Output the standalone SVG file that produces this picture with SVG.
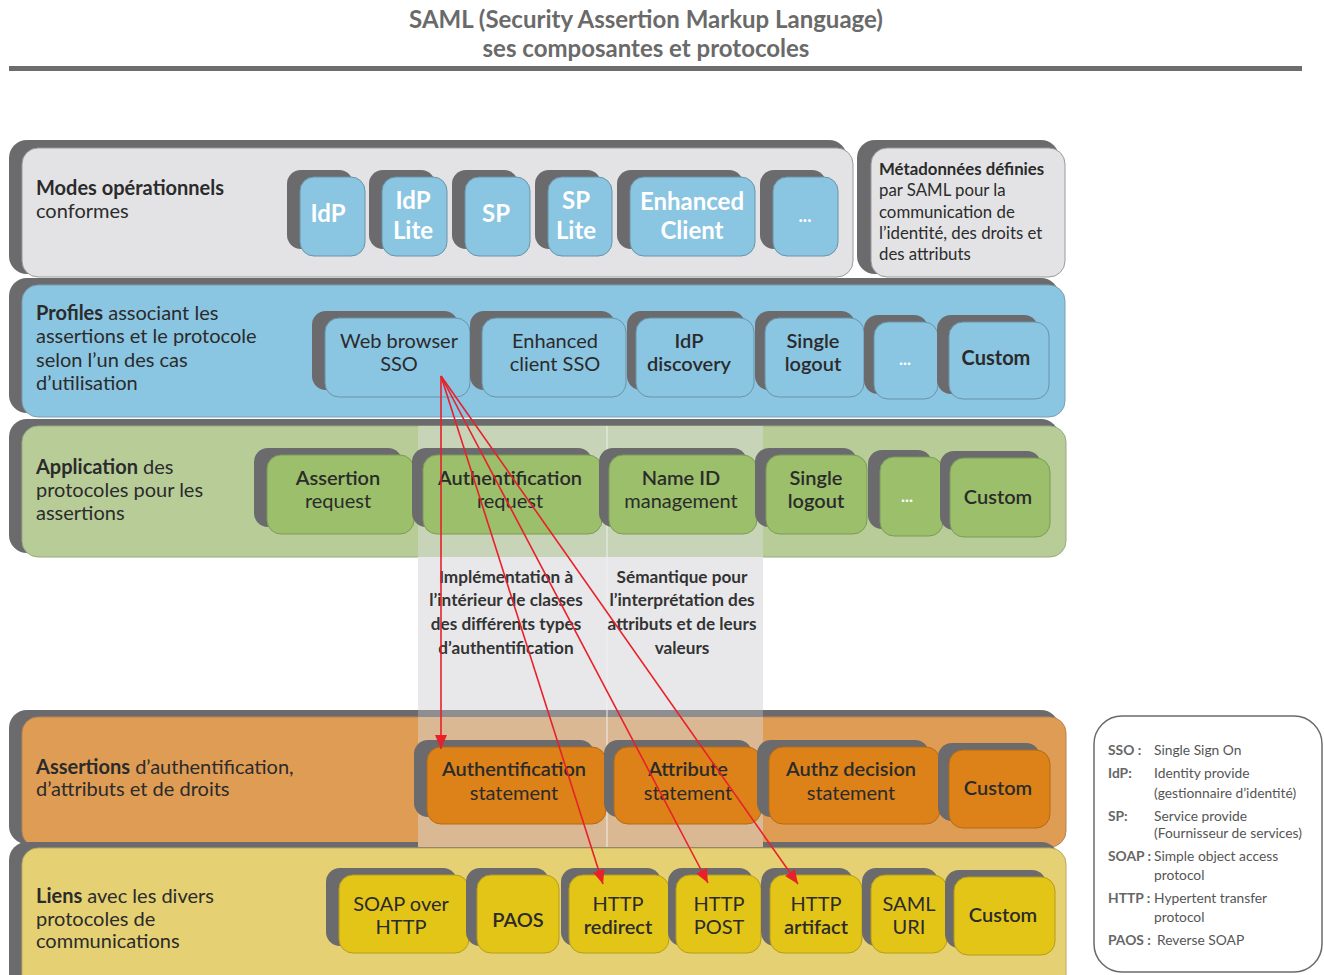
<svg xmlns="http://www.w3.org/2000/svg" width="1324" height="975" viewBox="0 0 1324 975">
<defs>
<style>
text{font-family:Lato,"Liberation Sans",sans-serif;}
.title{font-size:24px;font-weight:700;fill:#6a6a6a;text-anchor:middle;}
.lbl{font-size:20px;fill:#2b2b2b;}
.b{font-weight:700;}
.meta{font-size:16.8px;fill:#2b2b2b;}
.nt{font-size:20px;fill:#2b2b2b;text-anchor:middle;}
.nw{font-size:24px;fill:#ffffff;text-anchor:middle;font-weight:700;}
.sb{font-weight:700;}
.mid{font-size:17.2px;font-weight:700;fill:#333;text-anchor:middle;}
.lg{font-size:13.8px;fill:#555;}
.lgb{font-size:13.8px;fill:#666;font-weight:700;}
.dark{fill:#6b6b6d;}
.sh{fill:#6b6b6d;}
.blue{fill:#8ac5e2;stroke:#6a93a8;stroke-width:1;}
.green{fill:#9bbf6a;stroke:#7d9a58;stroke-width:1;}
.orange{fill:#dc8218;stroke:#b36a18;stroke-width:1;}
.yellow{fill:#e3c518;stroke:#b49c1a;stroke-width:1;}
.arrow{stroke:#e8202a;stroke-width:1.6;fill:none;marker-end:url(#ah);}
</style>
<marker id="ah" viewBox="0 0 14 12" refX="14" refY="6" markerWidth="14" markerHeight="12" markerUnits="userSpaceOnUse" orient="auto">
<path d="M0,0 L14,6 L0,12 z" fill="#e8202a"/>
</marker>
</defs>
<rect x="0" y="0" width="1324" height="975" fill="#ffffff"/>

<g id="title">
<text class="title" x="646" y="28">SAML (Security Assertion Markup Language)</text>
<text class="title" x="646" y="57">ses composantes et protocoles</text>
<rect x="9" y="66" width="1293" height="5" fill="#6d6d6d"/>
</g>

<!-- Bands -->
<g id="band-modes">
<rect class="dark" x="9" y="140" width="838" height="134" rx="18"/>
<rect x="22" y="148" width="831" height="129" rx="16" fill="#e3e3e5" stroke="#9a9a9a" stroke-width="1"/>
<text class="lbl" x="36" y="195"><tspan class="b">Modes opérationnels</tspan></text>
<text class="lbl" x="36" y="218">conformes</text>
</g>
<g id="band-meta">
<rect class="dark" x="857" y="140" width="202" height="134" rx="18"/>
<rect x="871" y="148" width="194" height="129" rx="16" fill="#e3e3e5" stroke="#9a9a9a" stroke-width="1"/>
<text class="meta" x="879" y="175"><tspan class="b">Métadonnées définies</tspan></text>
<text class="meta" x="879" y="196">par SAML pour la</text>
<text class="meta" x="879" y="218">communication de</text>
<text class="meta" x="879" y="239">l’identité, des droits et</text>
<text class="meta" x="879" y="260">des attributs</text>
</g>
<g id="band-profiles">
<rect class="dark" x="9" y="278" width="1050" height="135" rx="18"/>
<rect x="22" y="285" width="1043" height="132" rx="16" fill="#8ac5e2" stroke="#7a9fb2" stroke-width="1"/>
<text class="lbl" x="36" y="320"><tspan class="b">Profiles</tspan> associant les</text>
<text class="lbl" x="36" y="343">assertions et le protocole</text>
<text class="lbl" x="36" y="367">selon l’un des cas</text>
<text class="lbl" x="36" y="390">d’utilisation</text>
</g>
<g id="band-application">
<rect class="dark" x="9" y="419" width="1050" height="134" rx="18"/>
<rect x="22" y="426" width="1044" height="131" rx="16" fill="#b8cc98" stroke="#98aa80" stroke-width="1"/>
<text class="lbl" x="36" y="474"><tspan class="b">Application</tspan> des</text>
<text class="lbl" x="36" y="497">protocoles pour les</text>
<text class="lbl" x="36" y="520">assertions</text>
</g>
<g id="band-assertions">
<rect class="dark" x="9" y="710" width="1050" height="134" rx="18"/>
<rect x="22" y="717" width="1044" height="130" rx="16" fill="#df9c55" stroke="#b88450" stroke-width="1"/>
<text class="lbl" x="36" y="774"><tspan class="b">Assertions</tspan> d’authentification,</text>
<text class="lbl" x="36" y="796">d’attributs et de droits</text>
</g>
<g id="band-liens">
<rect class="dark" x="9" y="842" width="1050" height="150" rx="18"/>
<rect x="22" y="848" width="1044" height="145" rx="16" fill="#e5d173" stroke="#b8a860" stroke-width="1"/>
<text class="lbl" x="36" y="903"><tspan class="b">Liens</tspan> avec les divers</text>
<text class="lbl" x="36" y="926">protocoles de</text>
<text class="lbl" x="36" y="948">communications</text>
</g>

<!-- Columns -->
<g id="columns">
<rect x="418" y="426" width="345" height="131" fill="#c7d4b7"/>
<rect x="418" y="557" width="345" height="153" fill="#e8e8ea"/>
<rect x="418" y="710" width="345" height="7" fill="#8e8e90"/>
<rect x="418" y="717" width="345" height="130" fill="#dab893"/>
<line x1="607" y1="426" x2="607" y2="847" stroke="#f2f2f2" stroke-width="1.2" opacity="0.8"/>
<text class="mid" x="506" y="583">Implémentation à</text>
<text class="mid" x="506" y="606">l’intérieur de classes</text>
<text class="mid" x="506" y="630">des différents types</text>
<text class="mid" x="506" y="654">d’authentification</text>
<text class="mid" x="682" y="583">Sémantique pour</text>
<text class="mid" x="682" y="606">l’interprétation des</text>
<text class="mid" x="682" y="630">attributs et de leurs</text>
<text class="mid" x="682" y="654">valeurs</text>
</g>

<!-- Row 1 nodes -->
<g id="n-idp"><rect class="sh" x="287" y="170" width="66" height="79" rx="14"/><rect class="blue" x="300" y="177" width="65" height="79" rx="14"/><text class="nw" x="328" y="222">IdP</text></g>
<g id="n-idplite"><rect class="sh" x="369" y="170" width="66" height="79" rx="14"/><rect class="blue" x="382" y="177" width="65" height="79" rx="14"/><text class="nw" x="413" y="209">IdP</text><text class="nw" x="413" y="239">Lite</text></g>
<g id="n-sp"><rect class="sh" x="452" y="170" width="66" height="79" rx="14"/><rect class="blue" x="465" y="177" width="65" height="79" rx="14"/><text class="nw" x="496" y="222">SP</text></g>
<g id="n-splite"><rect class="sh" x="535" y="170" width="66" height="79" rx="14"/><rect class="blue" x="548" y="177" width="64" height="79" rx="14"/><text class="nw" x="576" y="209">SP</text><text class="nw" x="576" y="239">Lite</text></g>
<g id="n-enhanced"><rect class="sh" x="617" y="170" width="126" height="79" rx="14"/><rect class="blue" x="630" y="177" width="125" height="79" rx="14"/><text class="nw" x="692" y="210">Enhanced</text><text class="nw" x="692" y="239">Client</text></g>
<g id="n-dots1"><rect class="sh" x="760" y="170" width="66" height="79" rx="14"/><rect class="blue" x="773" y="177" width="65" height="79" rx="14"/><text class="nw" x="805" y="222" style="font-size:18px">...</text></g>

<!-- Row 2 nodes -->
<g id="n-websso"><rect class="sh" x="312" y="311" width="146" height="79" rx="14"/><rect class="blue" x="325" y="318" width="145" height="79" rx="14"/><text class="nt" x="399" y="348">Web browser</text><text class="nt" x="399" y="371">SSO</text></g>
<g id="n-ecsso"><rect class="sh" x="470" y="311" width="145" height="79" rx="14"/><rect class="blue" x="482" y="318" width="144" height="79" rx="14"/><text class="nt" x="555" y="348">Enhanced</text><text class="nt" x="555" y="371">client SSO</text></g>
<g id="n-idpdisc"><rect class="sh" x="627" y="311" width="118" height="79" rx="14"/><rect class="blue" x="636" y="318" width="118" height="79" rx="14"/><text class="nt" x="689" y="348" style="font-weight:600">IdP</text><text class="nt" x="689" y="371" style="font-weight:600">discovery</text></g>
<g id="n-slo1"><rect class="sh" x="755" y="311" width="100" height="79" rx="14"/><rect class="blue" x="765" y="318" width="99" height="79" rx="14"/><text class="nt" x="813" y="348" style="font-weight:600">Single</text><text class="nt" x="813" y="371" style="font-weight:600">logout</text></g>
<g id="n-dots2"><rect class="sh" x="864" y="315" width="64" height="79" rx="14"/><rect class="blue" x="874" y="322" width="64" height="77" rx="14"/><text class="nw" x="905" y="365" style="font-size:17px">...</text></g>
<g id="n-custom2"><rect class="sh" x="937" y="315" width="101" height="79" rx="14"/><rect class="blue" x="949" y="322" width="100" height="77" rx="14"/><text class="nt" x="996" y="365" style="font-weight:700">Custom</text></g>

<!-- Row 3 nodes -->
<g id="n-assreq"><rect class="sh" x="254" y="448" width="148" height="79" rx="14"/><rect class="green" x="267" y="455" width="147" height="79" rx="14"/><text class="nt" x="338" y="485" style="font-weight:600">Assertion</text><text class="nt" x="338" y="508">request</text></g>
<g id="n-authreq"><rect class="sh" x="412" y="448" width="180" height="79" rx="14"/><rect class="green" x="423" y="455" width="179" height="79" rx="14"/><text class="nt" x="510" y="485" style="font-weight:600">Authentification</text><text class="nt" x="510" y="508">request</text></g>
<g id="n-nameid"><rect class="sh" x="599" y="448" width="148" height="79" rx="14"/><rect class="green" x="609" y="455" width="148" height="79" rx="14"/><text class="nt" x="681" y="485" style="font-weight:600">Name ID</text><text class="nt" x="681" y="508">management</text></g>
<g id="n-slo2"><rect class="sh" x="755" y="448" width="102" height="79" rx="14"/><rect class="green" x="766" y="455" width="101" height="79" rx="14"/><text class="nt" x="816" y="485" style="font-weight:600">Single</text><text class="nt" x="816" y="508" style="font-weight:600">logout</text></g>
<g id="n-dots3"><rect class="sh" x="868" y="450" width="64" height="79" rx="14"/><rect class="green" x="880" y="457" width="63" height="79" rx="14"/><text class="nw" x="907" y="502" style="font-size:17px">...</text></g>
<g id="n-custom3"><rect class="sh" x="940" y="451" width="101" height="79" rx="14"/><rect class="green" x="950" y="458" width="100" height="79" rx="14"/><text class="nt" x="998" y="504" style="font-weight:600">Custom</text></g>

<!-- Row 4 nodes -->
<g id="n-authst"><rect class="sh" x="414" y="740" width="180" height="77" rx="14"/><rect class="orange" x="427" y="747" width="179" height="77" rx="14"/><text class="nt" x="514" y="776" style="font-weight:600">Authentification</text><text class="nt" x="514" y="800">statement</text></g>
<g id="n-attrst"><rect class="sh" x="604" y="740" width="148" height="77" rx="14"/><rect class="orange" x="614" y="747" width="147" height="77" rx="14"/><text class="nt" x="688" y="776" style="font-weight:600">Attribute</text><text class="nt" x="688" y="800">statement</text></g>
<g id="n-authzst"><rect class="sh" x="757" y="740" width="172" height="77" rx="14"/><rect class="orange" x="769" y="747" width="171" height="77" rx="14"/><text class="nt" x="851" y="776" style="font-weight:600">Authz decision</text><text class="nt" x="851" y="800">statement</text></g>
<g id="n-custom4"><rect class="sh" x="938" y="743" width="102" height="78" rx="14"/><rect class="orange" x="949" y="750" width="101" height="78" rx="14"/><text class="nt" x="998" y="795" style="font-weight:600">Custom</text></g>

<!-- Row 5 nodes -->
<g id="n-soap"><rect class="sh" x="326" y="868" width="131" height="78" rx="14"/><rect class="yellow" x="339" y="875" width="130" height="78" rx="14"/><text class="nt" x="401" y="911">SOAP over</text><text class="nt" x="401" y="934">HTTP</text></g>
<g id="n-paos"><rect class="sh" x="466" y="868" width="83" height="78" rx="14"/><rect class="yellow" x="477" y="875" width="82" height="78" rx="14"/><text class="nt" x="518" y="927" style="font-weight:600">PAOS</text></g>
<g id="n-redirect"><rect class="sh" x="561" y="868" width="100" height="78" rx="14"/><rect class="yellow" x="569" y="875" width="100" height="78" rx="14"/><text class="nt" x="618" y="911">HTTP</text><text class="nt" x="618" y="934" style="font-weight:600">redirect</text></g>
<g id="n-post"><rect class="sh" x="668" y="868" width="85" height="78" rx="14"/><rect class="yellow" x="676" y="875" width="85" height="78" rx="14"/><text class="nt" x="719" y="911">HTTP</text><text class="nt" x="719" y="934">POST</text></g>
<g id="n-artifact"><rect class="sh" x="761" y="868" width="92" height="78" rx="14"/><rect class="yellow" x="770" y="875" width="92" height="78" rx="14"/><text class="nt" x="816" y="911">HTTP</text><text class="nt" x="816" y="934" style="font-weight:600">artifact</text></g>
<g id="n-samluri"><rect class="sh" x="862" y="868" width="76" height="78" rx="14"/><rect class="yellow" x="871" y="875" width="76" height="78" rx="14"/><text class="nt" x="909" y="911">SAML</text><text class="nt" x="909" y="934">URI</text></g>
<g id="n-custom5"><rect class="sh" x="945" y="870" width="101" height="78" rx="14"/><rect class="yellow" x="954" y="877" width="101" height="78" rx="14"/><text class="nt" x="1003" y="922" style="font-weight:600">Custom</text></g>

<!-- Connectors -->
<g id="connectors">
<line class="arrow" x1="441" y1="376" x2="441" y2="749"/>
<line class="arrow" x1="441" y1="376" x2="603" y2="884"/>
<line class="arrow" x1="441" y1="376" x2="708" y2="883"/>
<line class="arrow" x1="441" y1="376" x2="798" y2="884"/>
</g>

<!-- Legend -->
<g id="legend">
<rect x="1094" y="716" width="228" height="256" rx="28" fill="#ffffff" stroke="#6a6a6a" stroke-width="1.5"/>
<text class="lgb" x="1108" y="755">SSO :</text><text class="lg" x="1154" y="755">Single Sign On</text>
<text class="lgb" x="1108" y="778">IdP:</text><text class="lg" x="1154" y="778">Identity provide</text>
<text class="lg" x="1154" y="798">(gestionnaire  d’identité)</text>
<text class="lgb" x="1108" y="821">SP:</text><text class="lg" x="1154" y="821">Service provide</text>
<text class="lg" x="1154" y="838">(Fournisseur de services)</text>
<text class="lgb" x="1108" y="861">SOAP :</text><text class="lg" x="1154" y="861">Simple object access</text>
<text class="lg" x="1154" y="880">protocol</text>
<text class="lgb" x="1108" y="903">HTTP :</text><text class="lg" x="1154" y="903">Hypertent transfer</text>
<text class="lg" x="1154" y="922">protocol</text>
<text class="lgb" x="1108" y="945">PAOS :</text><text class="lg" x="1157" y="945">Reverse SOAP</text>
</g>
</svg>
